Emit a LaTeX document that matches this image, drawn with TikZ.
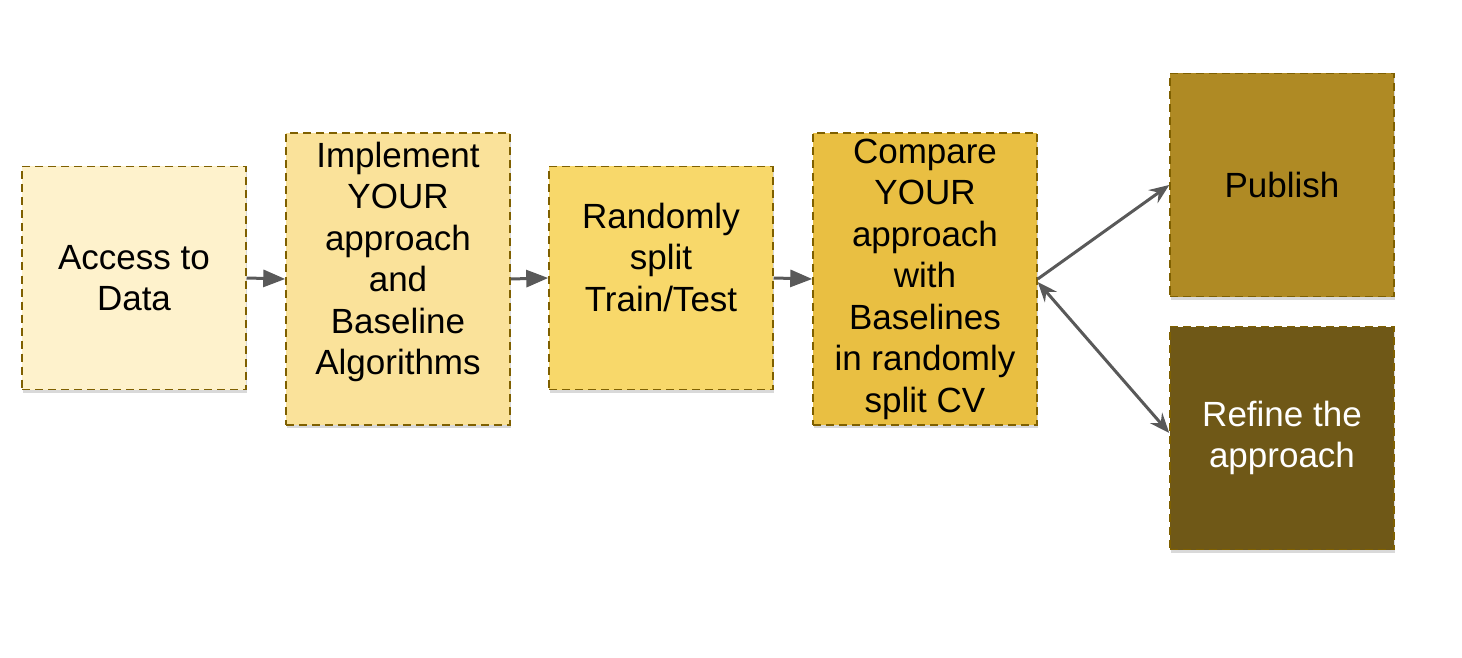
\documentclass[tikz,border=0pt]{standalone}
\usepackage{fontspec}
\setmainfont{Liberation Sans}
\usetikzlibrary{arrows.meta,shadows}
\definecolor{cA}{HTML}{FEF2CC}
\definecolor{cB}{HTML}{FAE29A}
\definecolor{cC}{HTML}{F8D86A}
\definecolor{cD}{HTML}{E9BF42}
\definecolor{cE}{HTML}{AF8A24}
\definecolor{cF}{HTML}{6F5817}
\definecolor{edge}{HTML}{7F6000}
\definecolor{arr}{HTML}{595959}
\tikzset{
  x=0.5pt, y=-0.5pt,
  stepbox/.style={draw=edge, line width=0.75pt, dash pattern=on 4pt off 2.5pt,
    minimum width=112pt, minimum height=111.5pt, inner sep=2pt, align=center,
    font=\fontsize{17.5}{20.75}\selectfont,
    drop shadow={shadow xshift=0.6pt, shadow yshift=-1.6pt, opacity=0.25, fill=black!60}},
  tallbox/.style={stepbox, minimum height=146pt},
  flow/.style={draw=arr, line width=1.5pt, -{Triangle[length=11pt,width=8.5pt]}},
  branch/.style={draw=arr, line width=1.5pt, -{Stealth[length=10pt,width=8pt,inset=3.5pt]}},
}
\begin{document}
\begin{tikzpicture}
\useasboundingbox (0,0) rectangle (1462,658);
\node[stepbox, fill=cA] (access) at (134,278) {Access to\\Data};
\node[tallbox, fill=cB] (impl) at (398,279) {Implement\\YOUR\\approach\\and\\Baseline\\Algorithms\\~};
\node[stepbox, fill=cC] (split) at (661,278) {Randomly\\split\\Train/Test\\~};
\node[tallbox, fill=cD] (comp) at (925,279) {Compare\\YOUR\\approach\\with\\Baselines\\in randomly\\split CV};
\node[stepbox, fill=cE] (pub) at (1282,185) {Publish};
\node[stepbox, fill=cF, text=white] (ref) at (1282,438) {Refine the\\approach};
\draw[flow] (access.east) -- (impl.west);
\draw[flow] (impl.east) -- (split.west);
\draw[flow] (split.east) -- (comp.west);
\draw[branch] (comp.east) -- (pub.west);
\draw[branch, {Stealth[length=10pt,width=8pt,inset=3.5pt]}-{Stealth[length=10pt,width=8pt,inset=3.5pt]}] ([yshift=-1.5pt]comp.east) -- ([yshift=2.5pt]ref.west);
\end{tikzpicture}
\end{document}
